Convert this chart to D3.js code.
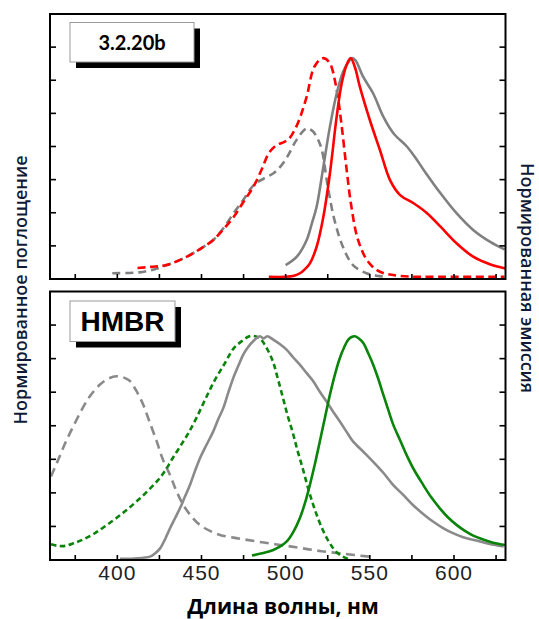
<!DOCTYPE html>
<html><head><meta charset="utf-8">
<script src="https://cdn.jsdelivr.net/npm/d3@7"></script>
<style>body{margin:0;background:#fff}svg{display:block}</style>
</head><body><svg id="c" width="539" height="619"></svg>
<script>
// ---- data ----
const xTickLabels = [400, 450, 500, 550, 600];
const xTickAll = [375, 400, 425, 450, 475, 500, 525, 550, 575, 600, 625];
const yTickVals = [0.15, 0.3, 0.45, 0.6, 0.75, 0.9, 1.05];
const panelLabels = ["3.2.20b", "HMBR"];
const xTitle = "Длина волны, нм";
const yLeftTitle = "Нормированное поглощение";
const yRightTitle = "Нормированная эмиссия";

// top panel (3.2.20b)
const topAbsRed = [[412,0.05],[420,0.055],[429,0.063],[441,0.10],[450,0.14],[457,0.177],[463,0.225],[469,0.28],[475,0.35],[481,0.42],[486,0.50],[490,0.57],[494.7,0.607],[499,0.62],[502,0.635],[505,0.67],[508,0.72],[512.5,0.826],[517,0.96],[522,1.0],[526,0.98],[530,0.87],[533,0.71],[536,0.51],[539,0.33],[543,0.177],[549,0.078],[556,0.033],[568,0.014],[592,0.01],[630,0.01]];
const topAbsGray = [[397,0.026],[405,0.027],[413,0.03],[420,0.04],[427,0.056],[434,0.076],[441,0.10],[450,0.14],[457,0.177],[463,0.23],[469,0.297],[475,0.36],[481,0.425],[487,0.455],[493,0.48],[497,0.51],[501,0.554],[506.5,0.63],[512.5,0.682],[516,0.67],[519,0.635],[521.5,0.584],[525,0.42],[529,0.267],[534,0.146],[540,0.063],[548,0.026],[554,0.015],[560,0.01]];
const topEmGray = [[500,0.063],[506.5,0.10],[512.5,0.177],[515.5,0.25],[518.4,0.327],[522.4,0.509],[526.3,0.69],[530.3,0.84],[534.2,0.94],[537.5,0.985],[539.5,1.0],[541.5,0.99],[546,0.916],[552,0.84],[558,0.735],[564,0.66],[572,0.60],[577,0.55],[582,0.494],[592,0.388],[601.5,0.298],[611.4,0.222],[621.3,0.169],[630,0.134]];
const topEmRed = [[490,0.01],[500,0.01],[505,0.015],[508.5,0.026],[511.5,0.045],[514.4,0.071],[518.4,0.146],[522.4,0.282],[526.3,0.479],[530.3,0.735],[533.3,0.886],[536.2,0.969],[538.6,1.0],[541.1,0.96],[544.1,0.87],[550,0.72],[556,0.584],[562,0.448],[568,0.38],[576,0.343],[584,0.298],[592,0.237],[601.5,0.162],[611.4,0.101],[621.3,0.067],[630.5,0.048]];

// bottom panel (HMBR)
const botAbsGray = [[360.6,0.373],[365,0.45],[369.5,0.53],[374,0.60],[379.4,0.679],[384,0.735],[389.7,0.784],[395,0.812],[399.6,0.821],[404,0.815],[407.5,0.80],[411,0.76],[415.4,0.694],[419,0.62],[423.4,0.53],[427,0.45],[431.3,0.38],[435,0.31],[439.2,0.246],[444,0.195],[449,0.157],[455,0.13],[461,0.112],[469,0.10],[477,0.09],[487,0.078],[497,0.067],[507,0.056],[516,0.045],[524,0.037],[532,0.03],[541,0.022],[550,0.015]];
const botAbsGreen = [[360.6,0.07],[364,0.064],[368.9,0.063],[374,0.075],[380,0.093],[386.7,0.12],[393.5,0.155],[400.6,0.194],[406.5,0.23],[412.5,0.269],[418.5,0.312],[424.3,0.358],[428.5,0.40],[432.3,0.448],[437.5,0.51],[442.2,0.567],[447,0.635],[452.1,0.716],[458,0.805],[464,0.881],[469,0.945],[473.9,0.978],[478.5,1.0],[482,1.0],[485.4,0.985],[488.5,0.95],[492.3,0.89],[495,0.82],[498.2,0.73],[501,0.65],[504.2,0.57],[507,0.49],[510.1,0.41],[513,0.33],[516,0.255],[519,0.19],[522,0.135],[525,0.09],[528,0.055],[531,0.03],[534,0.015],[537,0.005]];
const botEmGray = [[401.6,0.005],[410,0.007],[419.4,0.015],[422.5,0.03],[425.4,0.052],[428.5,0.095],[431.3,0.142],[434.5,0.19],[437.2,0.231],[440,0.28],[443.2,0.336],[446,0.395],[449.1,0.455],[453,0.515],[457,0.575],[460,0.63],[463,0.68],[466,0.75],[468.9,0.814],[472,0.87],[474.8,0.918],[477.5,0.95],[480.7,0.978],[484.7,1.0],[487,0.99],[489,1.0],[492.6,0.985],[496.5,0.965],[500.5,0.94],[504.5,0.905],[508.4,0.873],[512.5,0.835],[516.3,0.80],[520,0.755],[524.2,0.709],[528,0.665],[532.1,0.62],[536,0.575],[540,0.53],[546,0.485],[551.9,0.44],[558,0.39],[563.8,0.336],[570,0.29],[575.6,0.246],[581.5,0.207],[587.5,0.172],[593.5,0.143],[599.4,0.12],[605,0.103],[611.3,0.09],[620,0.074],[629.5,0.06]];
const botEmGreen = [[480,0.02],[486,0.03],[492.6,0.045],[497,0.062],[500.5,0.082],[504.5,0.125],[508.4,0.187],[511.5,0.255],[514.4,0.336],[517.4,0.43],[520.3,0.53],[523.3,0.635],[526.3,0.739],[529.3,0.83],[532.2,0.903],[534.7,0.95],[537.2,0.985],[539.5,0.998],[541.1,1.0],[543.5,0.99],[546.1,0.97],[549,0.925],[552,0.873],[555,0.81],[558,0.739],[561,0.67],[563.9,0.605],[568,0.535],[571.8,0.47],[576.5,0.40],[581.7,0.336],[586.5,0.28],[591.6,0.231],[596.5,0.19],[601.5,0.157],[606.5,0.13],[611.4,0.109],[616.5,0.094],[621.3,0.082],[625.5,0.074],[630.3,0.067]];

// ---- layout ----
const svg = d3.select("#c");
const X0 = 50, X1 = 505.5;
const x = d3.scaleLinear().domain([360, 630.6]).range([X0, X1]);
const panels = [
  {y0: 14, y1: 279, label: panelLabels[0], box: {x: 70, y: 22.5, w: 124, h: 39.5}, font: "700 20px Lato", series: [
    {d: topAbsGray, c: "#808080", dash: "8,5"},
    {d: topAbsRed, c: "#ff0000", dash: "8,4.5"},
    {d: topEmGray, c: "#808080", dash: null},
    {d: topEmRed, c: "#ff0000", dash: null}
  ]},
  {y0: 291.5, y1: 560, label: panelLabels[1], box: {x: 70, y: 301, w: 105, h: 40.5}, font: "700 28px 'Liberation Sans'", series: [
    {d: botAbsGray, c: "#8a8a8a", dash: "9,5.5"},
    {d: botAbsGreen, c: "#0a840a", dash: "5.5,3.5"},
    {d: botEmGray, c: "#8a8a8a", dash: null},
    {d: botEmGreen, c: "#0a840a", dash: null}
  ]}
];

panels.forEach((p, i) => {
  const y = d3.scaleLinear().domain([0, 1.2]).range([p.y1, p.y0]);
  const g = svg.append("g");
  const clipId = "clip" + i;
  svg.append("clipPath").attr("id", clipId).append("rect")
    .attr("x", X0).attr("y", p.y0).attr("width", X1 - X0).attr("height", p.y1 - p.y0);
  const line = d3.line().x(d => x(d[0])).y(d => y(d[1])).curve(d3.curveCatmullRom.alpha(0.5));
  const lg = g.append("g").attr("clip-path", `url(#${clipId})`);
  p.series.forEach(s => {
    lg.append("path").attr("d", line(s.d)).attr("fill", "none")
      .attr("stroke", s.c).attr("stroke-width", 2.6)
      .attr("stroke-dasharray", s.dash).attr("stroke-linejoin", "round");
  });
  // ticks
  const tg = g.append("g").attr("stroke", "#000").attr("stroke-width", 1.6);
  yTickVals.forEach(v => {
    tg.append("line").attr("x1", X0).attr("x2", X0 + 6).attr("y1", y(v)).attr("y2", y(v));
    tg.append("line").attr("x1", X1).attr("x2", X1 - 6).attr("y1", y(v)).attr("y2", y(v));
  });
  xTickAll.forEach(v => {
    tg.append("line").attr("x1", x(v)).attr("x2", x(v)).attr("y1", p.y1).attr("y2", p.y1 - 5);
  });
  // frame
  g.append("rect").attr("x", X0).attr("y", p.y0).attr("width", X1 - X0).attr("height", p.y1 - p.y0)
    .attr("fill", "none").attr("stroke", "#000").attr("stroke-width", 2);
  // label box with shadow
  g.append("rect").attr("x", p.box.x + 6).attr("y", p.box.y + 6).attr("width", p.box.w).attr("height", p.box.h).attr("fill", "#000");
  g.append("rect").attr("x", p.box.x).attr("y", p.box.y).attr("width", p.box.w).attr("height", p.box.h)
    .attr("fill", "#fff").attr("stroke", "#999").attr("stroke-width", 1);
  g.append("text").attr("x", p.box.x + p.box.w / 2).attr("y", p.box.y + p.box.h / 2)
    .attr("text-anchor", "middle").attr("dominant-baseline", "central")
    .style("font", p.font).attr("fill", "#000").text(p.label);
  if (i === 1) {
    xTickLabels.forEach(v => {
      svg.append("text").attr("x", x(v)).attr("y", 580).attr("text-anchor", "middle")
        .style("font", "21px 'Liberation Sans'").style("letter-spacing", "1px").attr("fill", "#222").text(v);
    });
  }
});

svg.append("text").attr("x", 283).attr("y", 614).attr("text-anchor", "middle")
  .style("font", "700 21px 'Open Sans'").attr("fill", "#000").text(xTitle);
svg.append("text").attr("transform", "translate(27,290) rotate(-90)").attr("text-anchor", "middle")
  .style("font", "600 18px 'Open Sans'").attr("fill", "#101a36").text(yLeftTitle);
svg.append("text").attr("transform", "translate(521,278) rotate(90)").attr("text-anchor", "middle")
  .style("font", "600 18px 'Open Sans'").attr("fill", "#101a36").text(yRightTitle);
</script></body></html>
